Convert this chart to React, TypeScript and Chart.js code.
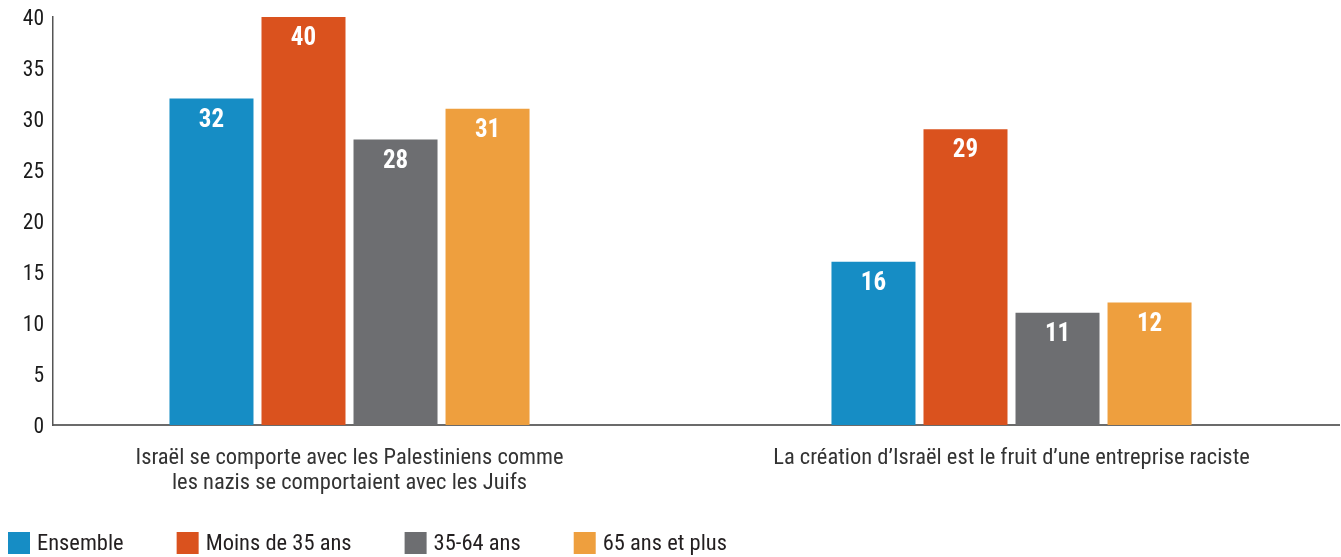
import React, { useEffect, useRef } from 'react';
import { Chart, registerables } from 'chart.js';

Chart.register(...registerables);

// ---- Data ----
const categories: string[][] = [
  ['Israël se comporte avec les Palestiniens comme', 'les nazis se comportaient avec les Juifs'],
  ['La création d’Israël est le fruit d’une entreprise raciste'],
];
const seriesNames = ['Ensemble', 'Moins de 35 ans', '35-64 ans', '65 ans et plus'];
const ensemble = [32, 16];
const moins35 = [40, 29];
const age3564 = [28, 11];
const plus65 = [31, 12];
const yMin = 0;
const yMax = 40;
const yStep = 5;

const colors = ['#168dc5', '#da521e', '#6d6e71', '#ee9f3e'];
const FONT = "'Liberation Sans Narrow', 'Roboto Condensed', 'Arial Narrow', 'DejaVu Sans Condensed', sans-serif";

const valueLabelPlugin = {
  id: 'valueLabels',
  afterDatasetsDraw(chart: any) {
    const ctx = chart.ctx;
    ctx.save();
    ctx.fillStyle = '#ffffff';
    ctx.font = `bold 25px ${FONT}`;
    ctx.textAlign = 'center';
    ctx.textBaseline = 'middle';
    chart.data.datasets.forEach((ds: any, di: number) => {
      const meta = chart.getDatasetMeta(di);
      meta.data.forEach((bar: any, i: number) => {
        ctx.fillText(String(ds.data[i]), bar.x, bar.y + 22);
      });
    });
    ctx.restore();
  },
};

const legendPlugin = {
  id: 'customLegend',
  afterDraw(chart: any) {
    const ctx = chart.ctx;
    ctx.save();
    ctx.font = `22.5px ${FONT}`;
    ctx.textBaseline = 'middle';
    ctx.textAlign = 'left';
    let x = 8;
    const boxY = 532;
    const box = 22;
    chart.data.datasets.forEach((ds: any) => {
      ctx.fillStyle = ds.backgroundColor;
      ctx.fillRect(x, boxY, box, box);
      ctx.fillStyle = '#231f20';
      ctx.fillText(ds.label, x + box + 7, boxY + box / 2 + 1);
      x += box + 7 + ctx.measureText(ds.label).width + 53;
    });
    ctx.restore();
  },
};

export default function App() {
  const ref = useRef<HTMLCanvasElement>(null);
  useEffect(() => {
    if (!ref.current) return;
    const series = [ensemble, moins35, age3564, plus65];
    const chart = new Chart(ref.current, {
      type: 'bar',
      data: {
        labels: categories.map((_, i) => i),
        datasets: series.map((d, i) => ({
          label: seriesNames[i],
          data: d,
          backgroundColor: colors[i],
          borderWidth: 0,
          categoryPercentage: 0.556,
          barPercentage: 0.913,
        })),
      },
      options: {
        animation: false,
        responsive: true,
        maintainAspectRatio: false,
        layout: { padding: { top: 17, right: 2, left: 0, bottom: 0 } },
        plugins: {
          legend: { display: false },
          tooltip: { enabled: false },
        },
        scales: {
          x: {
            type: 'linear',
            offset: false,
            min: -0.4479,
            max: 1.4947,
            grid: { display: false, drawTicks: false, offset: false },
            border: { display: true, color: '#6b6b6b', width: 2 },
            afterBuildTicks: (scale: any) => {
              scale.ticks = categories.map((_, i) => ({ value: i }));
            },
            afterFit: (scale: any) => {
              scale.height = 132;
            },
            ticks: {
              autoSkip: false,
              maxRotation: 0,
              padding: 21,
              color: '#333333',
              font: { family: FONT, size: 22.5, lineHeight: 1.1 },
              callback: (v: any) => categories[v as number] ?? '',
            },
          },
          y: {
            min: yMin,
            max: yMax,
            grid: { display: false, drawTicks: false },
            border: { display: true, color: '#555555', width: 1.5 },
            afterFit: (scale: any) => {
              scale.width = 53;
              scale.paddingTop = 0;
              scale.paddingBottom = 0;
            },
            ticks: {
              stepSize: yStep,
              padding: 9,
              labelOffset: 3,
              color: '#1a1a1a',
              font: { family: FONT, size: 21.5 },
            },
          },
        },
      },
      plugins: [valueLabelPlugin, legendPlugin],
    });
    return () => chart.destroy();
  }, []);
  return (
    <div style={{ position: 'absolute', left: 0, top: 0, width: 1341, height: 557 }}>
      <canvas ref={ref} />
    </div>
  );
}
